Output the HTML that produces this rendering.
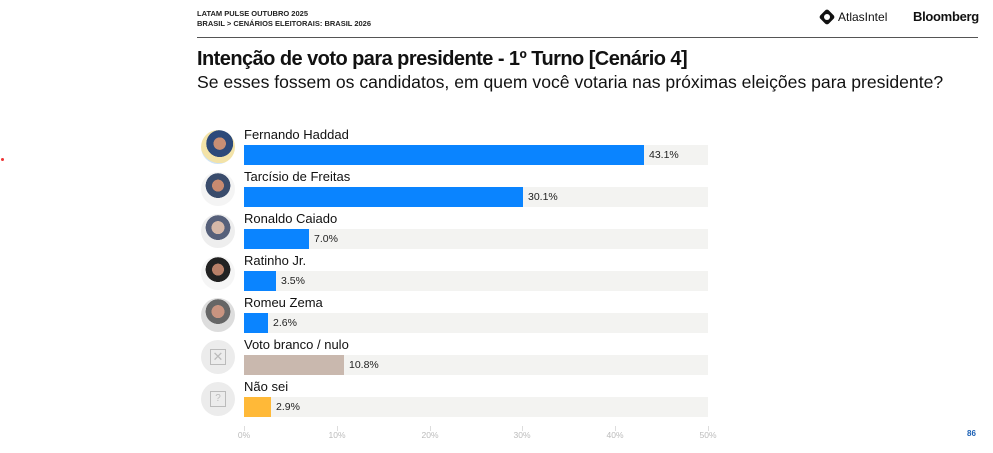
<!DOCTYPE html>
<html><head><meta charset="utf-8"><style>
body{margin:0;width:993px;height:453px;background:#fff;font-family:"Liberation Sans",sans-serif;position:relative;overflow:hidden;color:#111}
.a{position:absolute;white-space:nowrap}
.bg{position:absolute;left:244px;width:464px;height:20px;background:#f3f3f1}
.bar{position:absolute;left:244px;height:20px}
.lab{position:absolute;left:244px;font-size:13px;color:#111}
.val{position:absolute;font-size:10.5px;color:#222}
.av{position:absolute;left:201px;width:34px;height:34px;border-radius:50%}
.tick{position:absolute;top:426px;width:1px;height:5px;background:#ddd}
.tl{position:absolute;top:430px;font-size:8.5px;color:#bbb;width:30px;text-align:center}
</style></head><body>
<div class="a" style="left:197px;top:9px;font-size:7.5px;font-weight:bold;color:#222">LATAM PULSE OUTUBRO 2025</div>
<div class="a" style="left:197px;top:19px;font-size:7.5px;font-weight:bold;color:#222">BRASIL &gt; CENÁRIOS ELEITORAIS: BRASIL 2026</div>
<div class="a" style="left:820px;top:10px;width:14px;height:14px;background:#111;transform:rotate(45deg) scale(.85);border-radius:3px"></div>
<div class="a" style="left:824px;top:14px;width:6px;height:6px;background:#fff;border-radius:50%"></div>
<div class="a" style="left:838px;top:10px;font-size:12px;color:#111">AtlasIntel</div>
<div class="a" style="left:913px;top:9px;font-size:13px;font-weight:bold;color:#111;letter-spacing:-0.3px">Bloomberg</div>
<div class="a" style="left:197px;top:37px;width:781px;height:1px;background:#555"></div>
<div class="a" style="left:197px;top:48px;font-size:20px;font-weight:bold;letter-spacing:-0.55px">Intenção de voto para presidente - 1º Turno [Cenário 4]</div>
<div class="a" style="left:197px;top:72px;font-size:17.6px;color:#111">Se esses fossem os candidatos, em quem você votaria nas próximas eleições para presidente?</div>
<div class="a" style="left:1px;top:158px;width:3px;height:3px;background:#e33;border-radius:50%"></div>

<div class="av" style="top:130px;background:radial-gradient(circle at 55% 40%,#c98f74 0 22%,#2d4a7a 23% 48%,#f3e3a8 49% 70%,#cfe3f5 71%)"></div>
<div class="lab" style="top:127px">Fernando Haddad</div>
<div class="bg" style="top:145px"></div><div class="bar" style="top:145px;width:400px;background:#0a84ff"></div>
<div class="val" style="left:649px;top:149px">43.1%</div>

<div class="av" style="top:172px;background:radial-gradient(circle at 50% 40%,#c88a70 0 22%,#3a4c6c 23% 46%,#f4f4f4 47%)"></div>
<div class="lab" style="top:169px">Tarcísio de Freitas</div>
<div class="bg" style="top:187px"></div><div class="bar" style="top:187px;width:279px;background:#0a84ff"></div>
<div class="val" style="left:528px;top:191px">30.1%</div>

<div class="av" style="top:214px;background:radial-gradient(circle at 50% 40%,#d6b8a8 0 24%,#56607a 25% 46%,#eeeeee 47%)"></div>
<div class="lab" style="top:211px">Ronaldo Caiado</div>
<div class="bg" style="top:229px"></div><div class="bar" style="top:229px;width:65px;background:#0a84ff"></div>
<div class="val" style="left:314px;top:233px">7.0%</div>

<div class="av" style="top:256px;background:radial-gradient(circle at 50% 40%,#b98068 0 22%,#222 23% 46%,#f5f5f5 47%)"></div>
<div class="lab" style="top:253px">Ratinho Jr.</div>
<div class="bg" style="top:271px"></div><div class="bar" style="top:271px;width:32px;background:#0a84ff"></div>
<div class="val" style="left:281px;top:275px">3.5%</div>

<div class="av" style="top:298px;background:radial-gradient(circle at 50% 40%,#c99480 0 24%,#666 25% 46%,#ddd 47%)"></div>
<div class="lab" style="top:295px">Romeu Zema</div>
<div class="bg" style="top:313px"></div><div class="bar" style="top:313px;width:24px;background:#0a84ff"></div>
<div class="val" style="left:273px;top:317px">2.6%</div>

<div class="av" style="top:340px;background:#ececec"></div>
<div class="a" style="left:210px;top:349px;width:14px;height:14px;border:1px solid #bbb;color:#bbb;font-size:13px;line-height:14px;text-align:center">✕</div>
<div class="lab" style="top:337px">Voto branco / nulo</div>
<div class="bg" style="top:355px"></div><div class="bar" style="top:355px;width:100px;background:#c9b8ae"></div>
<div class="val" style="left:349px;top:359px">10.8%</div>

<div class="av" style="top:382px;background:#ececec"></div>
<div class="a" style="left:210px;top:391px;width:14px;height:14px;border:1px solid #bbb;color:#bbb;font-size:10px;line-height:14px;text-align:center">?</div>
<div class="lab" style="top:379px">Não sei</div>
<div class="bg" style="top:397px"></div><div class="bar" style="top:397px;width:27px;background:#ffb938"></div>
<div class="val" style="left:276px;top:401px">2.9%</div>

<div class="tick" style="left:244px"></div><div class="tl" style="left:229px">0%</div>
<div class="tick" style="left:337px"></div><div class="tl" style="left:322px">10%</div>
<div class="tick" style="left:430px"></div><div class="tl" style="left:415px">20%</div>
<div class="tick" style="left:522px"></div><div class="tl" style="left:507px">30%</div>
<div class="tick" style="left:615px"></div><div class="tl" style="left:600px">40%</div>
<div class="tick" style="left:708px"></div><div class="tl" style="left:693px">50%</div>
<div class="a" style="left:967px;top:429px;font-size:8px;color:#1a5fb4;font-weight:bold">86</div>
</body></html>
